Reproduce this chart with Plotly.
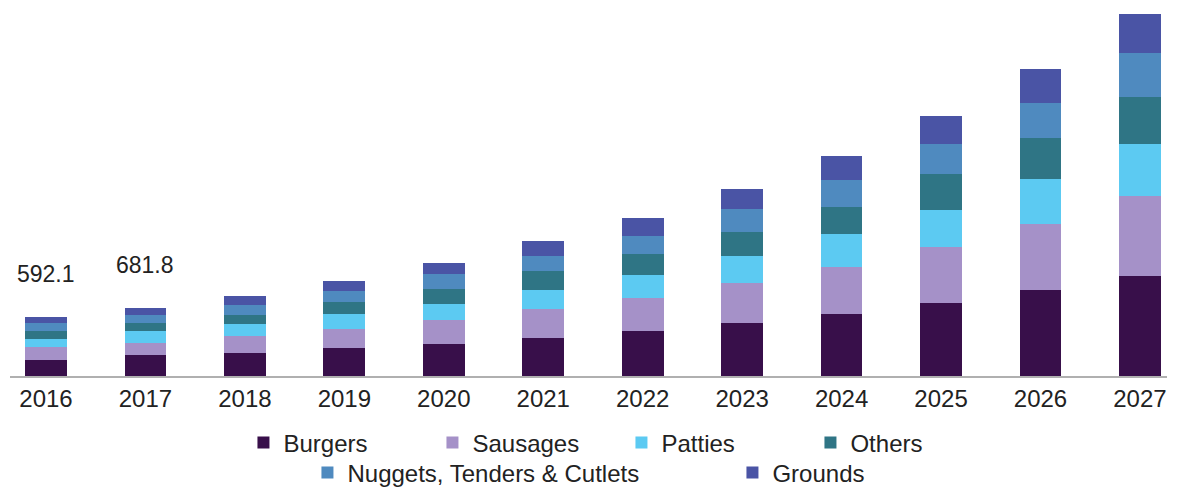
import plotly.graph_objects as go

years = ["2016", "2017", "2018", "2019", "2020", "2021", "2022", "2023", "2024", "2025", "2026", "2027"]

burgers = [165, 208, 227, 276, 320, 380, 450, 533, 623, 727, 860, 1000]
sausages = [121, 127, 170, 194, 240, 290, 333, 400, 467, 563, 663, 800]
patties = [86, 118, 120, 150, 160, 193, 227, 267, 327, 370, 444, 517]
others = [79, 74, 93, 120, 150, 183, 207, 240, 273, 363, 410, 476]
nuggets = [82, 88, 100, 110, 150, 157, 183, 227, 267, 300, 356, 440]
grounds = [59.1, 66.8, 90, 100, 106, 143, 177, 200, 243, 277, 334, 384]

total_labels = ["592.1", "681.8"]

series = [
    ("Burgers", burgers, "#380f4a", "legend"),
    ("Sausages", sausages, "#a591c8", "legend"),
    ("Patties", patties, "#5ccaf2", "legend"),
    ("Others", others, "#2f7585", "legend"),
    ("Nuggets, Tenders & Cutlets", nuggets, "#4f8abf", "legend2"),
    ("Grounds", grounds, "#4a54a5", "legend2"),
]

fig = go.Figure()
for name, vals, color, leg in series:
    fig.add_trace(go.Bar(
        x=years, y=vals, name=name, marker=dict(color=color, line=dict(width=0)),
        width=0.42, legend=leg,
    ))

totals = [sum(v) for v in zip(burgers, sausages, patties, others, nuggets, grounds)]
for i, lab in enumerate(total_labels):
    fig.add_annotation(
        x=i, y=totals[i], xref="x", yref="y", text=lab, showarrow=False,
        yanchor="middle", xanchor="center", yshift=43,
        font=dict(family="Liberation Sans, Arial, sans-serif", size=23, color="#222222"),
    )

font = dict(family="Liberation Sans, Arial, sans-serif", size=24, color="#222222")

fig.update_layout(
    width=1177, height=488,
    margin=dict(l=10, r=10, t=0, b=112),
    paper_bgcolor="white", plot_bgcolor="white",
    barmode="stack",
    font=font,
    showlegend=True,
    xaxis=dict(
        type="category", range=[-0.362, 11.272],
        showline=True, linecolor="#b0b0b0", linewidth=2,
        showgrid=False, zeroline=False, ticks="",
        tickfont=font, fixedrange=True,
    ),
    yaxis=dict(
        range=[0, 3760], visible=False, showgrid=False, zeroline=False, fixedrange=True,
    ),
    legend=dict(
        orientation="h", xref="container", yref="container",
        x=0.528, xanchor="center", y=1 - 443 / 488, yanchor="middle",
        entrywidth=144, entrywidthmode="pixels",
        font=font, bgcolor="rgba(0,0,0,0)", traceorder="normal",
    ),
    legend2=dict(
        orientation="h", xref="container", yref="container",
        x=0.6223, xanchor="center", y=1 - 473 / 488, yanchor="middle",
        entrywidth=380, entrywidthmode="pixels",
        font=font, bgcolor="rgba(0,0,0,0)", traceorder="normal",
    ),
)

fig.write_html("out.html")
